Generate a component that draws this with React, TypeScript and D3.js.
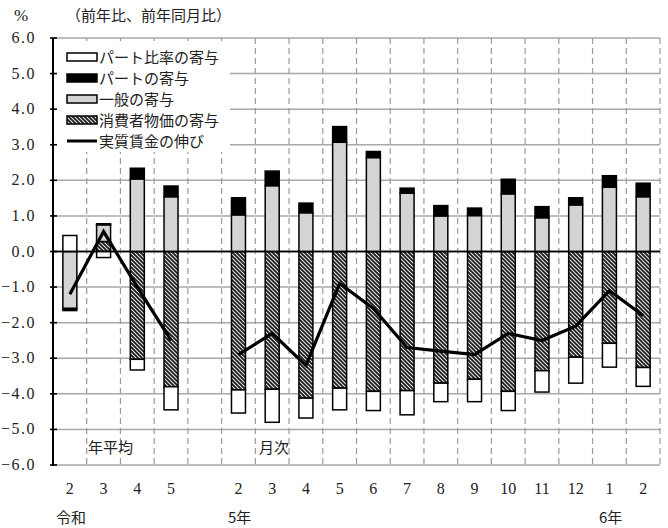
import { FC, useMemo } from 'react';
import * as d3 from 'd3';

// categories (slot "-" is the empty gap between annual and monthly)
const periods = ['R2', 'R3', 'R4', 'R5', '-', '2023-02', '2023-03', '2023-04', '2023-05', '2023-06', '2023-07',
  '2023-08', '2023-09', '2023-10', '2023-11', '2023-12', '2024-01', '2024-02'];
const tickLabels = ['2', '3', '4', '5', '', '2', '3', '4', '5', '6', '7', '8', '9', '10', '11', '12', '1', '2'];

// contributions (percentage points)
const cpiContrib = [0, 0.28, -3.03, -3.8, 0, -3.89, -3.87, -4.12, -3.84, -3.93, -3.91, -3.7, -3.59, -3.93, -3.35, -2.97, -2.58, -3.26];
const generalContrib = [-1.6, 0.47, 2.04, 1.54, 0, 1.03, 1.85, 1.09, 3.07, 2.64, 1.64, 1.0, 1.01, 1.62, 0.95, 1.31, 1.81, 1.54];
const partContrib = [-0.06, 0.03, 0.3, 0.3, 0, 0.48, 0.41, 0.27, 0.44, 0.17, 0.14, 0.29, 0.21, 0.41, 0.31, 0.2, 0.32, 0.38];
const partRatioContrib = [0.45, -0.17, -0.3, -0.65, 0, -0.65, -0.93, -0.56, -0.61, -0.54, -0.68, -0.52, -0.63, -0.54, -0.6, -0.73, -0.67, -0.53];
// real wage growth (%)
const realWage: (number | null)[] = [-1.2, 0.56, -1.0, -2.5, null, -2.9, -2.3, -3.2, -0.9, -1.6, -2.7, -2.8, -2.9, -2.3, -2.5, -2.1, -1.1, -1.8];

const yTicks = d3.range(-6, 7, 1);

const legendItems = [
  { key: 'partRatio', label: 'パート比率の寄与' },
  { key: 'part', label: 'パートの寄与' },
  { key: 'general', label: '一般の寄与' },
  { key: 'cpi', label: '消費者物価の寄与' },
  { key: 'line', label: '実質賃金の伸び' },
];

const W = 668, H = 528;
const PLOT = { left: 53, right: 660, top: 38, bottom: 465 };
const NUM_FONT = "'Liberation Serif', 'DejaVu Serif', serif";
const JP_FONT = "'Noto Sans CJK JP', sans-serif";

const FILLS: Record<string, string> = {
  partRatio: '#ffffff',
  part: '#000000',
  general: '#d4d4d4',
  cpi: 'url(#hatch)',
};

const App: FC = () => {
  const xScale = useMemo(() => d3.scaleBand<string>().domain(periods).range([PLOT.left, PLOT.right]), []);
  const yScale = useMemo(() => d3.scaleLinear().domain([-6, 6]).range([PLOT.bottom, PLOT.top]), []);

  const rows = periods.map((p, i) => ({
    period: p,
    cpi: cpiContrib[i],
    general: generalContrib[i],
    part: partContrib[i],
    partRatio: partRatioContrib[i],
  }));
  const stack = d3.stack<any>()
    .keys(['cpi', 'general', 'part', 'partRatio'])
    .offset(d3.stackOffsetDiverging)(rows);

  const barW = xScale.bandwidth() * 0.415;

  const lineBuilder = d3.line<number | null>()
    .defined((d) => d !== null)
    .x((_, i) => xScale(periods[i])! + xScale.bandwidth() / 2)
    .y((d) => yScale(d as number));
  const linePath = lineBuilder(realWage);

  const boundaries = d3.range(1, periods.length + 1).map((i) => PLOT.left + i * xScale.step());

  return (
    <div style={{ position: 'absolute', left: 0, top: 0 }}>
      <svg width={W} height={H} style={{ display: 'block', background: '#fff' }}>
        <defs>
          <pattern id="hatch" patternUnits="userSpaceOnUse" width={4} height={4}>
            <rect width={4} height={4} fill="#eeeeee" />
            <path d="M-1,-1 L5,5 M-1,3 L1,5 M3,-1 L5,1" stroke="#1a1a1a" strokeWidth={1.8} />
          </pattern>
        </defs>

        {/* horizontal grid */}
        {yTicks.map((t) => (
          <line key={`g${t}`} x1={PLOT.left} x2={PLOT.right} y1={yScale(t)} y2={yScale(t)}
            stroke={t === 0 ? '#000' : '#a8a8a8'} strokeWidth={t === 0 ? 1.6 : 1.5} />
        ))}
        {/* vertical dashed dividers */}
        {boundaries.map((bx, i) => (
          <line key={`v${i}`} x1={bx} x2={bx} y1={PLOT.top} y2={PLOT.bottom + 2}
            stroke="#9a9a9a" strokeWidth={1.2} strokeDasharray="6,4" />
        ))}

        {/* legend background hides the grid */}
        <rect x={55} y={41} width={175} height={111} fill="#fff" />
        {legendItems.map((it, i) => {
          const cy = 57 + i * 21;
          return (
            <g key={it.key}>
              {it.key === 'line'
                ? <line x1={67} x2={97} y1={cy} y2={cy} stroke="#000" strokeWidth={3} />
                : <rect x={67} y={cy - 4} width={30} height={8} fill={FILLS[it.key]} stroke="#000" strokeWidth={1.5} />}
              <text x={99} y={cy + 5.5} fontFamily={JP_FONT} fontSize={15} fill="#222">{it.label}</text>
            </g>
          );
        })}

        {/* bars */}
        {stack.map((series) => (
          <g key={series.key}>
            {series.map((d, i) => {
              if (periods[i] === '-' || Math.abs(d[1] - d[0]) < 1e-9) return null;
              const y0 = yScale(d[0]), y1 = yScale(d[1]);
              return (
                <rect key={i} x={xScale(periods[i])! + (xScale.bandwidth() - barW) / 2}
                  y={Math.min(y0, y1)} width={barW} height={Math.abs(y1 - y0)}
                  fill={FILLS[series.key]} stroke="#000" strokeWidth={1.5} />
              );
            })}
          </g>
        ))}

        {/* zero line over bars */}
        <line x1={PLOT.left} x2={PLOT.right} y1={yScale(0)} y2={yScale(0)} stroke="#000" strokeWidth={1.6} />

        {/* real wage line */}
        {linePath && <path d={linePath} fill="none" stroke="#000" strokeWidth={3.2} strokeLinejoin="miter" />}

        {/* y axis */}
        <line x1={PLOT.left} x2={PLOT.left} y1={PLOT.top} y2={PLOT.bottom + 1} stroke="#000" strokeWidth={2} />
        {yTicks.map((t) => (
          <g key={`t${t}`}>
            <line x1={PLOT.left - 3} x2={PLOT.left + 4} y1={yScale(t)} y2={yScale(t)} stroke="#000" strokeWidth={1.6} />
            <text x={36} y={yScale(t) + 5} textAnchor="end" fontFamily={NUM_FONT} fontSize={16}
              letterSpacing={1.5} fill="#222">{d3.format('.1f')(t)}</text>
          </g>
        ))}

        {/* x tick labels */}
        {periods.map((p, i) => (
          <text key={`x${p}`} x={xScale(p)! + xScale.bandwidth() / 2} y={494} textAnchor="middle"
            fontFamily={NUM_FONT} fontSize={16} fill="#222">{tickLabels[i]}</text>
        ))}
        <text x={56} y={523} fontFamily={JP_FONT} fontSize={15} fill="#222">令和</text>
        <text x={228} y={523} fontFamily={JP_FONT} fontSize={15} fill="#222">5年</text>
        <text x={599} y={523} fontFamily={JP_FONT} fontSize={15} fill="#222">6年</text>

        <text x={88} y={453} fontFamily={JP_FONT} fontSize={15} fill="#222">年平均</text>
        <text x={259} y={453} fontFamily={JP_FONT} fontSize={15} fill="#222">月次</text>

        <text x={14} y={21} fontFamily={NUM_FONT} fontSize={17} fill="#222">%</text>
        <text x={66} y={21} fontFamily={JP_FONT} fontSize={15} fill="#222">（前年比、前年同月比）</text>
      </svg>
    </div>
  );
};

export default App;
